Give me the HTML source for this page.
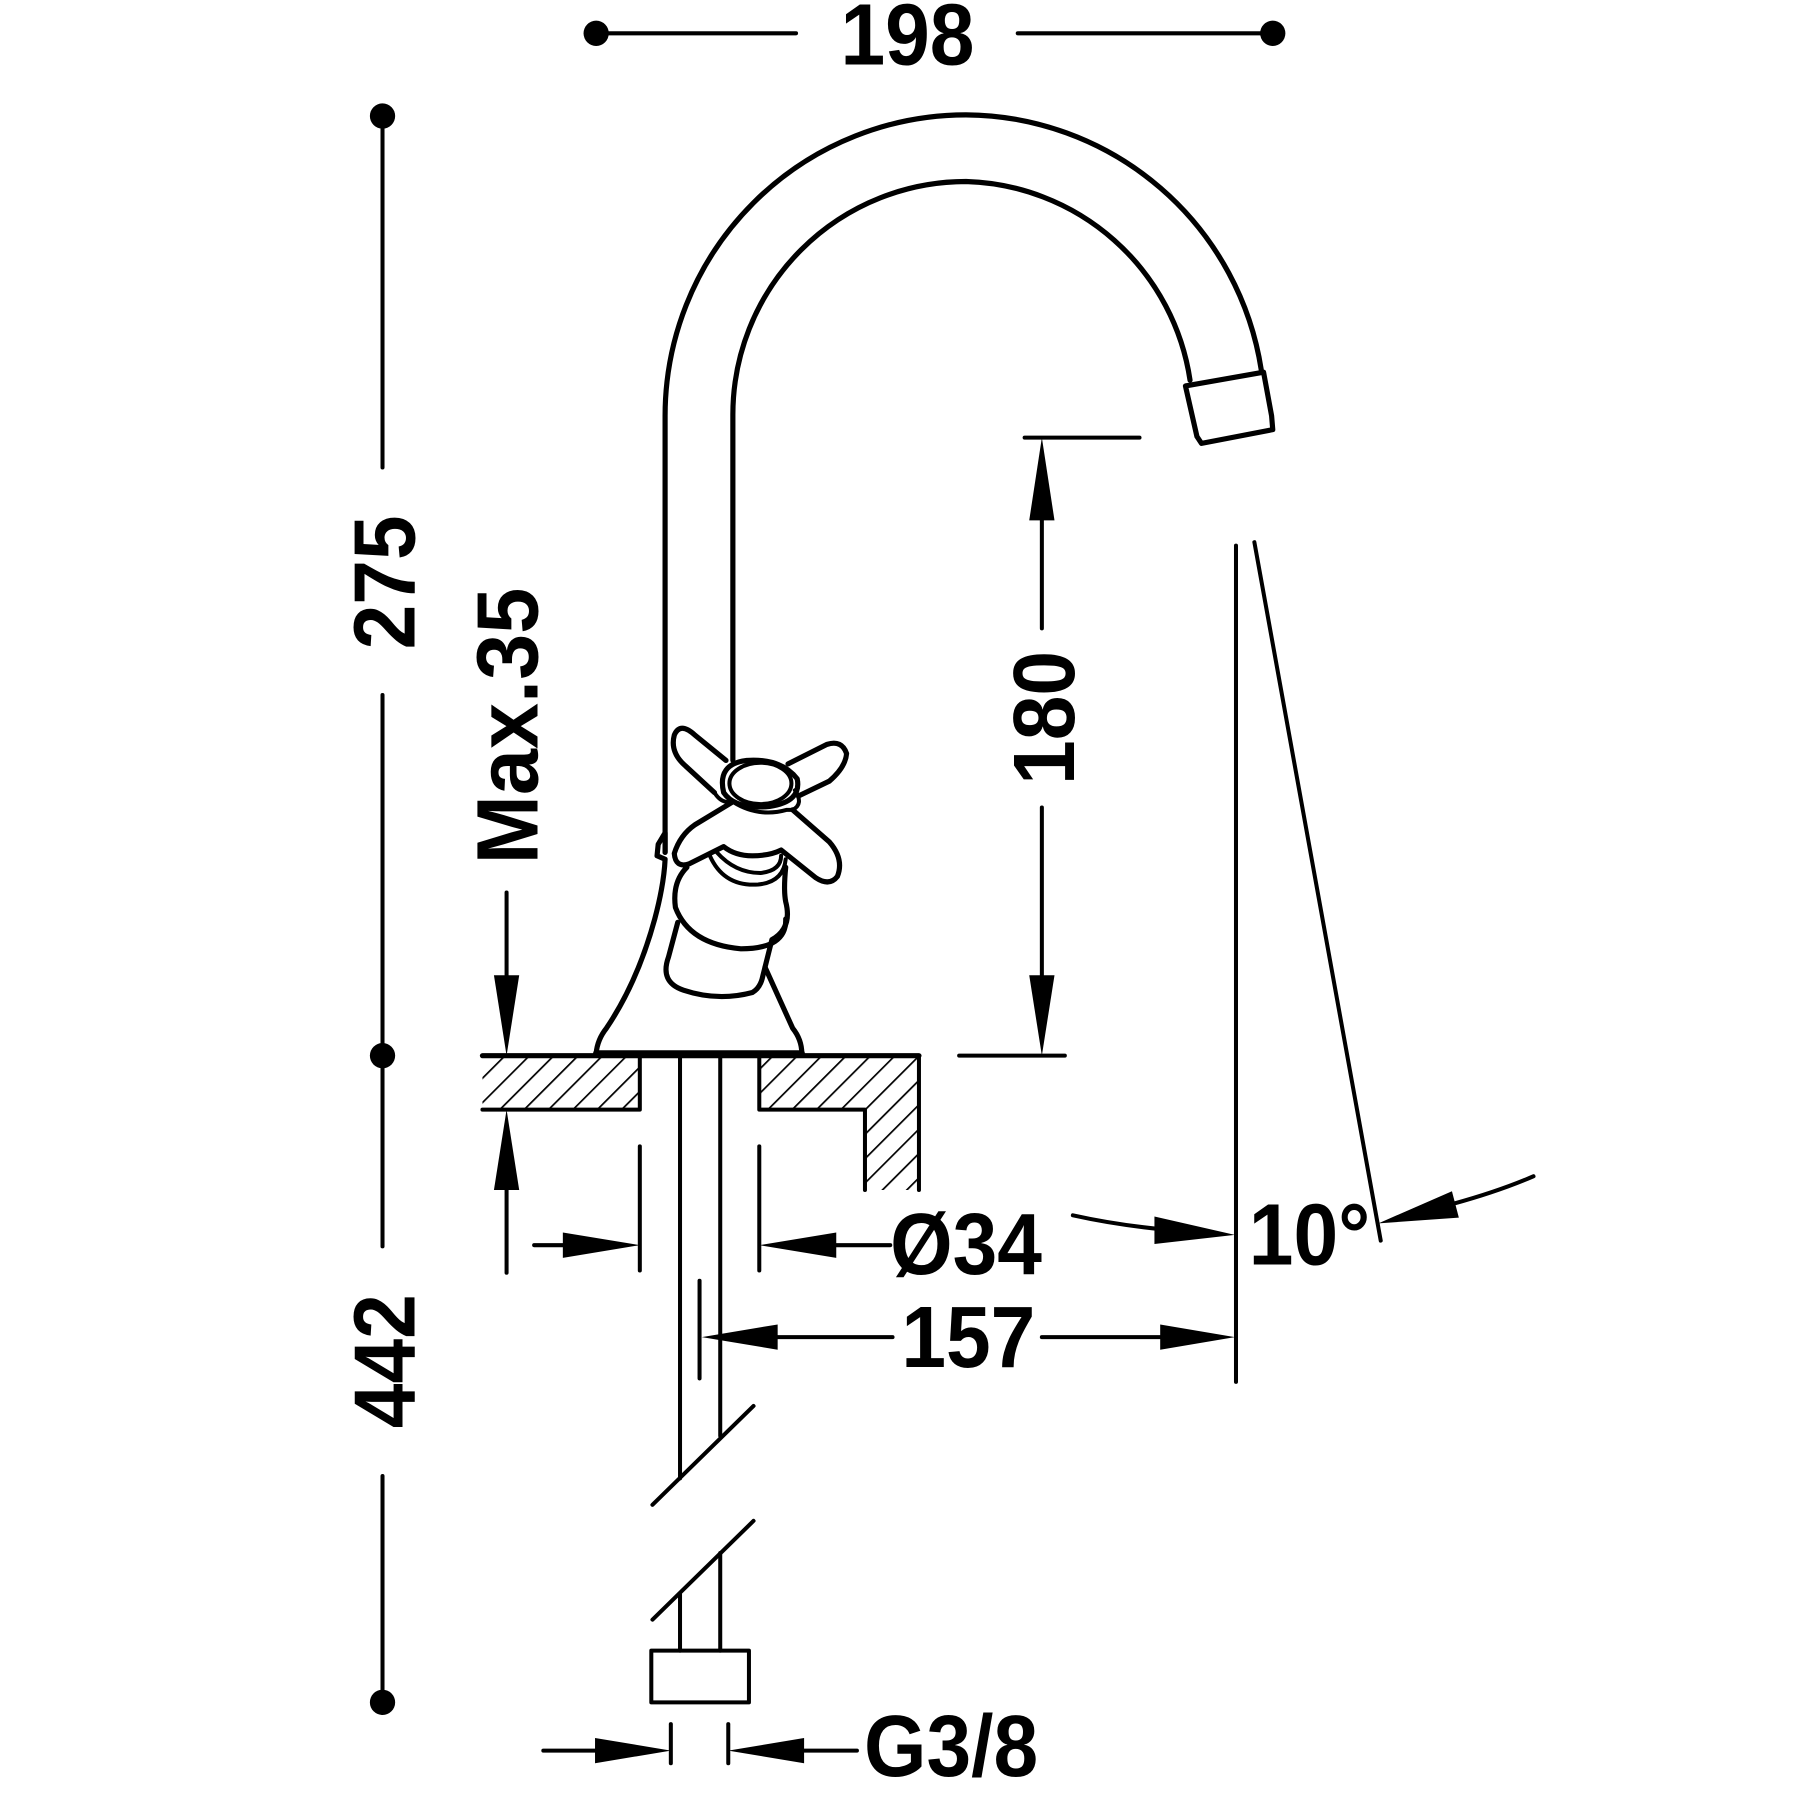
<!DOCTYPE html>
<html><head><meta charset="utf-8"><style>
html,body{margin:0;padding:0;background:#fff;}
svg{display:block;}
text{font-family:"Liberation Sans",sans-serif;font-weight:bold;fill:#000;}
</style></head><body>
<svg width="1800" height="1800" viewBox="0 0 1567 1567" xmlns="http://www.w3.org/2000/svg">
<defs>
<pattern id="h" patternUnits="userSpaceOnUse" width="15" height="15" patternTransform="rotate(45)">
<line x1="0" y1="0" x2="0" y2="15" stroke="#000" stroke-width="3"/>
</pattern>
</defs>
<g stroke="#000" fill="none" stroke-linecap="round" stroke-linejoin="round">
<line x1="519" y1="29" x2="693" y2="29" stroke-width="3.5"/>
<line x1="886" y1="29" x2="1108" y2="29" stroke-width="3.5"/>
<line x1="333" y1="101" x2="333" y2="407" stroke-width="3.5"/>
<line x1="333" y1="605" x2="333" y2="1085" stroke-width="3.5"/>
<line x1="333" y1="1285" x2="333" y2="1482" stroke-width="3.5"/>
<line x1="441" y1="777" x2="441" y2="860" stroke-width="3.5"/>
<line x1="441" y1="1030" x2="441" y2="1108" stroke-width="3.5"/>
<path d="M420,966 H557 V919 H420 Z" fill="url(#h)" stroke="none"/>
<path d="M661,919 H800 V1036 H753 V966 H661 Z" fill="url(#h)" stroke="none"/>
<line x1="420" y1="919" x2="800" y2="919" stroke-width="4.5"/>
<path d="M420,966 H557 V919" stroke-width="3.5"/>
<path d="M661,919 V966 H753 V1036 M800,919 V1036" stroke-width="3.5"/>
<line x1="592" y1="919" x2="592" y2="1287" stroke-width="3.5"/>
<line x1="627" y1="919" x2="627" y2="1250" stroke-width="3.5"/>
<line x1="568" y1="1310" x2="656" y2="1224" stroke-width="3.5"/>
<line x1="568" y1="1410" x2="656" y2="1324" stroke-width="3.5"/>
<line x1="592" y1="1388" x2="592" y2="1437" stroke-width="3.5"/>
<line x1="627" y1="1352" x2="627" y2="1437" stroke-width="3.5"/>
<rect x="567" y="1437" width="85" height="45" stroke-width="3.5"/>
<path d="M579,742 V362 A262,262 0 0 1 841,100 A262,262 0 0 1 1098,322" stroke-width="4.5"/>
<path d="M638,662 V361 A203,203 0 0 1 841,158 A203,203 0 0 1 1036,331" stroke-width="4.5"/>
<path d="M1032,336 L1100,324 L1107,362 L1108,374 L1046,386 L1042,380 Z" stroke-width="4.5"/>
<path d="M579,742 L579,725 L573,735 L572,745 L579,748 Q578,770 570,800 Q555,855 528,895 Q520,905 519,917 L698,917 Q698,905 690,895 L666,842" stroke-width="4.5"/>
<line x1="519" y1="917" x2="698" y2="917" stroke-width="5.5"/>
<path d="M590,803 L582,833 Q574,855 595,862 Q625,872 655,864 Q662,860 664,850 L672,818 Q690,808 684,785 Q682,775 684,755" stroke-width="4.5"/>
<path d="M598,755 Q585,768 588,790 Q600,822 645,826 Q685,826 684,800" stroke-width="4.5"/>
<path d="M618,745 Q630,772 660,770 Q682,768 684,748 M624,742 Q640,760 662,760 Q680,758 680,745" stroke-width="3.5"/>
<path d="M632,662 L605,640 Q592,628 587,640 Q583,655 597,667 L622,690" stroke-width="4.5"/>
<path d="M686,665 L720,648 Q733,644 737,656 Q736,668 722,680 L695,693" stroke-width="4.5"/>
<path d="M690,705 L722,733 Q735,748 729,763 Q722,772 710,764 L680,740 Q670,745 655,745 Q640,745 630,737 L600,752 Q588,756 587,743 Q592,727 605,718 L638,698" stroke-width="4.5"/>
<path d="M622,690 Q628,700 638,698 Q660,712 685,705 L690,705 Q700,700 692,688" stroke-width="3.5"/>
<path d="M630,690 Q624,665 650,662 Q680,660 694,678 Q698,698 670,702 Q640,705 630,690 Z" stroke-width="4.5"/>
<ellipse cx="662" cy="682" rx="27" ry="18" stroke-width="3.5"/>
<line x1="892" y1="381" x2="992" y2="381" stroke-width="3.5"/>
<line x1="907" y1="440" x2="907" y2="547" stroke-width="3.5"/>
<line x1="907" y1="703" x2="907" y2="860" stroke-width="3.5"/>
<line x1="835" y1="919" x2="927" y2="919" stroke-width="3.5"/>
<line x1="1076" y1="475" x2="1076" y2="1203" stroke-width="3.5"/>
<line x1="1092" y1="472" x2="1202" y2="1080" stroke-width="3.5"/>
<path d="M934,1058 Q970,1066 1010,1070" stroke-width="3.5"/>
<path d="M1335,1024 Q1305,1037 1265,1048" stroke-width="3.5"/>
<line x1="557" y1="998" x2="557" y2="1106" stroke-width="3.5"/>
<line x1="661" y1="998" x2="661" y2="1106" stroke-width="3.5"/>
<line x1="465" y1="1084" x2="495" y2="1084" stroke-width="3.5"/>
<line x1="720" y1="1084" x2="775" y2="1084" stroke-width="3.5"/>
<line x1="609" y1="1115" x2="609" y2="1200" stroke-width="3.5"/>
<line x1="670" y1="1164" x2="777" y2="1164" stroke-width="3.5"/>
<line x1="907" y1="1164" x2="1015" y2="1164" stroke-width="3.5"/>
<line x1="584" y1="1501" x2="584" y2="1535" stroke-width="3.5"/>
<line x1="634" y1="1501" x2="634" y2="1535" stroke-width="3.5"/>
<line x1="473" y1="1524" x2="520" y2="1524" stroke-width="3.5"/>
<line x1="700" y1="1524" x2="746" y2="1524" stroke-width="3.5"/>
</g>
<g fill="#000">
<circle cx="519" cy="29" r="11"/><circle cx="1108" cy="29" r="11"/>
<circle cx="333" cy="101" r="11"/><circle cx="333" cy="919" r="11"/><circle cx="333" cy="1482" r="11"/>
<polygon points="441,919 430,849 452,849"/>
<polygon points="441,966 430,1036 452,1036"/>
<polygon points="907,381 896,453 918,453"/>
<polygon points="907,919 896,849 918,849"/>
<polygon points="557,1084 490,1073 490,1095"/>
<polygon points="661,1084 728,1073 728,1095"/>
<polygon points="611,1164 677,1153 677,1175"/>
<polygon points="1075,1164 1010,1153 1010,1175"/>
<polygon points="1075,1075 1005,1059 1005,1083"/>
<polygon points="1200,1065 1264,1037 1270,1060"/>
<polygon points="584,1524 518,1513 518,1535"/>
<polygon points="634,1524 700,1513 700,1535"/>
</g>
<g font-size="76">
<text x="790" y="56" text-anchor="middle" transform="translate(790,0) scale(0.92,1) translate(-790,0)">198</text>
<text x="0" y="0" text-anchor="middle" transform="translate(361,507) rotate(-90) scale(0.92,1)">275</text>
<text x="0" y="0" text-anchor="middle" transform="translate(361,1185) rotate(-90) scale(0.92,1)">442</text>
<text x="0" y="0" text-anchor="middle" transform="translate(468,632) rotate(-90) scale(0.95,1)">Max.35</text>
<text x="0" y="0" text-anchor="middle" transform="translate(935,625) rotate(-90) scale(0.92,1)">180</text>
<text x="841" y="1109" text-anchor="middle" transform="translate(841,0) scale(0.92,1) translate(-841,0)">Ø34</text>
<text x="843" y="1190" text-anchor="middle" transform="translate(843,0) scale(0.92,1) translate(-843,0)">157</text>
<text x="1140" y="1101" text-anchor="middle" transform="translate(1140,0) scale(0.92,1) translate(-1140,0)">10°</text>
<text x="828" y="1546" text-anchor="middle" transform="translate(828,0) scale(0.92,1) translate(-828,0)">G3/8</text>
</g>
</svg>
</body></html>
